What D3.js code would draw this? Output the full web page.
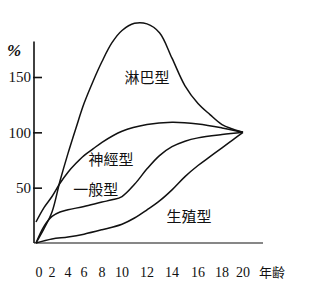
<!DOCTYPE html>
<html>
<head>
<meta charset="utf-8">
<script src="https://cdn.jsdelivr.net/npm/d3@7"></script>
<style>
body { margin: 0; background: #fff; }
svg { display: block; }
.num { font-family: "Liberation Serif", "DejaVu Serif", serif; font-size: 14px; fill: #111; }
.cjk { font-family: "Noto Sans CJK TC", "Noto Sans CJK JP", sans-serif; fill: #111; }
</style>
</head>
<body>
<div id="chart"></div>
<script>
var w = 313;
var h = 300;

// ages on the x axis and where they sit (the printed axis is not evenly spaced)
var ages = [0, 2, 4, 6, 8, 10, 12, 14, 16, 18, 20];
var agePos = [36, 52, 68, 84, 102, 122, 147, 172, 198, 222, 243];
var yTicks = [50, 100, 150];

// growth curves, % of size at age 20
var lymphAges = [0, 1, 2, 3, 4, 5, 6, 7, 8, 9, 10, 11, 12, 13, 14, 15, 16, 17, 18, 19, 20];
var lymph = [0, 13, 28, 56, 81, 104, 126, 146, 164, 181, 192, 198.5, 198, 190, 167, 142, 126, 116, 107, 103, 100];

var neuralAges = [0, 1, 2, 3, 4, 5, 6, 7, 8, 10, 12, 14, 16, 18, 20];
var neural = [19, 32, 42, 54, 64, 72, 79, 85, 91, 101, 107, 109, 107.5, 104, 100];

var generalAges = [0, 1, 2, 3, 4, 6, 8, 9, 10, 11, 12, 13, 14, 15, 16, 18, 20];
var general = [0, 15, 24, 28, 30, 33, 37, 39, 42, 53, 67, 79, 87, 92, 95, 98, 100];

var reproAges = [0, 2, 4, 6, 8, 10, 11, 12, 13, 14, 15, 16, 17, 18, 19, 20];
var repro = [0, 3.6, 5.4, 8, 12, 17, 22.6, 30, 38, 48, 60, 70, 78, 86, 93, 100];

var svg = d3.select("#chart")
	.append("svg")
	.attr("width", w)
	.attr("height", h);

var x = d3.scaleLinear().domain(ages).range(agePos);
var y = d3.scaleLinear().domain([0, 150]).range([243, 77]);
var yTop = 182;

// axes lines
svg.append("line")
	.attr("x1", x(0) - 2).attr("x2", x(0) - 2)
	.attr("y1", y(0)).attr("y2", y(yTop))
	.attr("stroke", "#111").attr("stroke-width", 1.6);

svg.append("line")
	.attr("x1", x(0) - 2).attr("x2", x(20) + 20)
	.attr("y1", y(0)).attr("y2", y(0))
	.attr("stroke", "#111").attr("stroke-width", 1.2);

var yAxis = d3.axisLeft(y).tickValues(yTicks).tickSize(-9).tickPadding(2);

var ga = svg.append("g")
	.attr("transform", "translate(" + (x(0) - 3) + ",0)")
	.call(yAxis);
ga.select(".domain").remove();
ga.selectAll(".tick line").attr("stroke", "#111").attr("stroke-width", 1.6);
ga.selectAll(".tick text").attr("class", "num").style("font-size", "15px").attr("fill", "#111");

svg.append("text")
	.attr("class", "num")
	.attr("x", 14).attr("y", 56)
	.attr("text-anchor", "middle")
	.style("font-size", "17px")
	.style("font-weight", "bold")
	.style("font-style", "italic")
	.text("%");

// x tick labels
svg.selectAll(".xlab")
	.data(ages)
	.enter().append("text")
	.attr("class", "num xlab")
	.attr("x", function(d) { return d == 0 ? x(d) + 3 : x(d); })
	.attr("y", 277)
	.attr("text-anchor", "middle")
	.text(function(d) { return d; });

svg.append("text")
	.attr("class", "cjk")
	.attr("x", 272).attr("y", 277)
	.attr("text-anchor", "middle")
	.style("font-size", "13px")
	.text("年齢");

var line = d3.line()
	.x(function(d) { return x(d[0]); })
	.y(function(d) { return y(d[1]); })
	.curve(d3.curveCatmullRom.alpha(0.5));

function drawCurve(a, v) {
	svg.append("path")
		.datum(d3.zip(a, v))
		.attr("fill", "none")
		.attr("stroke", "#111")
		.attr("stroke-width", 1.5)
		.attr("d", line);
}

drawCurve(reproAges, repro);
drawCurve(generalAges, general);
drawCurve(neuralAges, neural);
drawCurve(lymphAges, lymph);

// curve names
var names = [
	{ t: "淋巴型", a: 12, v: 149 },
	{ t: "神經型", a: 8.9, v: 75 },
	{ t: "一般型", a: 7.3, v: 48 },
	{ t: "生殖型", a: 15.3, v: 24 }
];

svg.selectAll(".name")
	.data(names)
	.enter().append("text")
	.attr("class", "cjk name")
	.attr("x", function(d) { return x(d.a); })
	.attr("y", function(d) { return y(d.v); })
	.attr("dy", "0.35em")
	.attr("text-anchor", "middle")
	.style("font-size", "15px")
	.text(function(d) { return d.t; });
</script>
</body>
</html>
